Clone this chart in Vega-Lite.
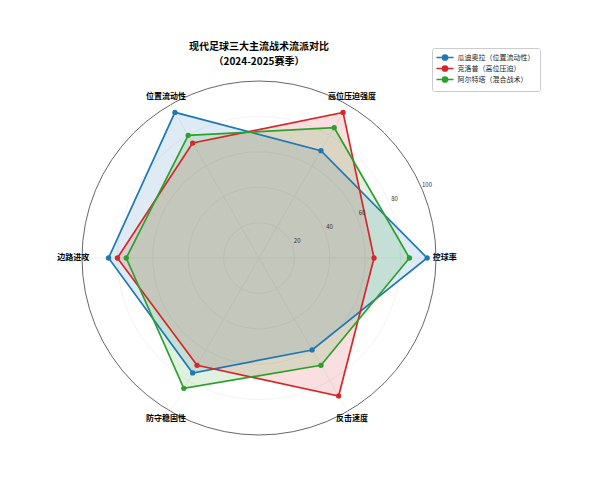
{
  "$schema": "https://vega.github.io/schema/vega-lite/v6.json",
  "width": 354,
  "height": 354,
  "autosize": {"type": "none"},
  "padding": {"left": 82, "top": 81, "right": 164, "bottom": 45},
  "background": "white",
  "config": {"view": {"stroke": null}, "font": "Noto Sans CJK SC"},
  "datasets": {
    "scores": [
      {"team": "瓜迪奥拉（位置流动性）", "axis": "控球率", "value": 95},
      {"team": "瓜迪奥拉（位置流动性）", "axis": "高位压迫强度", "value": 70},
      {"team": "瓜迪奥拉（位置流动性）", "axis": "位置流动性", "value": 95},
      {"team": "瓜迪奥拉（位置流动性）", "axis": "边路进攻", "value": 85},
      {"team": "瓜迪奥拉（位置流动性）", "axis": "防守稳固性", "value": 75},
      {"team": "瓜迪奥拉（位置流动性）", "axis": "反击速度", "value": 60},
      {"team": "克洛普（高位压迫）", "axis": "控球率", "value": 65},
      {"team": "克洛普（高位压迫）", "axis": "高位压迫强度", "value": 95},
      {"team": "克洛普（高位压迫）", "axis": "位置流动性", "value": 75},
      {"team": "克洛普（高位压迫）", "axis": "边路进攻", "value": 80},
      {"team": "克洛普（高位压迫）", "axis": "防守稳固性", "value": 70},
      {"team": "克洛普（高位压迫）", "axis": "反击速度", "value": 90},
      {"team": "阿尔特塔（混合战术）", "axis": "控球率", "value": 85},
      {"team": "阿尔特塔（混合战术）", "axis": "高位压迫强度", "value": 85},
      {"team": "阿尔特塔（混合战术）", "axis": "位置流动性", "value": 80},
      {"team": "阿尔特塔（混合战术）", "axis": "边路进攻", "value": 75},
      {"team": "阿尔特塔（混合战术）", "axis": "防守稳固性", "value": 85},
      {"team": "阿尔特塔（混合战术）", "axis": "反击速度", "value": 70}
    ],
    "axes": [
      {"axis": "控球率"},
      {"axis": "高位压迫强度"},
      {"axis": "位置流动性"},
      {"axis": "边路进攻"},
      {"axis": "防守稳固性"},
      {"axis": "反击速度"}
    ],
    "rings": [{"r": 20}, {"r": 40}, {"r": 60}, {"r": 80}],
    "outer": [{"r": 100}],
    "ticks": [{"t": 20}, {"t": 40}, {"t": 60}, {"t": 80}, {"t": 100}],
    "titles": [{"line": "现代足球三大主流战术流派对比", "row": 1}, {"line": "（2024-2025赛季）", "row": 2}]
  },
  "layer": [
    {
      "data": {"name": "rings"},
      "mark": {"type": "point", "shape": "circle", "filled": false, "strokeWidth": 0.8, "opacity": 1, "color": "#efefef"},
      "encoding": {
        "x": {"datum": 0, "type": "quantitative", "scale": {"domain": [-100, 100], "nice": false, "zero": false}, "axis": null},
        "y": {"datum": 0, "type": "quantitative", "scale": {"domain": [-100, 100], "nice": false, "zero": false}, "axis": null},
        "size": {"field": "r", "type": "quantitative", "scale": {"type": "pow", "exponent": 2, "domain": [0, 100], "range": [0, 125316]}, "legend": null}
      }
    },
    {
      "data": {"name": "outer"},
      "mark": {"type": "point", "shape": "circle", "filled": false, "strokeWidth": 0.9, "opacity": 1, "color": "#555555"},
      "encoding": {
        "x": {"datum": 0, "type": "quantitative"},
        "y": {"datum": 0, "type": "quantitative"},
        "size": {"field": "r", "type": "quantitative", "legend": null}
      }
    },
    {
      "data": {"name": "axes"},
      "transform": [
        {"calculate": "indexof(['控球率','高位压迫强度','位置流动性','边路进攻','防守稳固性','反击速度'], datum.axis) * PI / 3", "as": "ang"},
        {"calculate": "0", "as": "o"},
        {"calculate": "100 * cos(datum.ang)", "as": "ex"},
        {"calculate": "100 * sin(datum.ang)", "as": "ey"}
      ],
      "mark": {"type": "rule", "color": "#efefef", "strokeWidth": 0.8},
      "encoding": {
        "x": {"field": "o", "type": "quantitative"},
        "y": {"field": "o", "type": "quantitative"},
        "x2": {"field": "ex"},
        "y2": {"field": "ey"}
      }
    },
    {
      "data": {"name": "scores"},
      "transform": [
        {"calculate": "indexof(['控球率','高位压迫强度','位置流动性','边路进攻','防守稳固性','反击速度'], datum.axis)", "as": "idx"},
        {"calculate": "datum.idx * PI / 3", "as": "ang"},
        {"calculate": "datum.value * cos(datum.ang)", "as": "px"},
        {"calculate": "datum.value * sin(datum.ang)", "as": "py"}
      ],
      "layer": [
        {
          "mark": {"type": "line", "interpolate": "linear-closed", "fillOpacity": 0.15, "strokeOpacity": 0},
          "encoding": {
            "x": {"field": "px", "type": "quantitative"},
            "y": {"field": "py", "type": "quantitative"},
            "order": {"field": "idx", "type": "quantitative"},
            "fill": {"field": "team", "type": "nominal", "scale": {"domain": ["瓜迪奥拉（位置流动性）", "克洛普（高位压迫）", "阿尔特塔（混合战术）"], "range": ["#1f77b4", "#d62728", "#2ca02c"]}}
          }
        },
        {
          "mark": {"type": "line", "interpolate": "linear-closed", "strokeWidth": 1.7},
          "encoding": {
            "x": {"field": "px", "type": "quantitative"},
            "y": {"field": "py", "type": "quantitative"},
            "order": {"field": "idx", "type": "quantitative"},
            "color": {
              "field": "team", "type": "nominal",
              "scale": {"domain": ["瓜迪奥拉（位置流动性）", "克洛普（高位压迫）", "阿尔特塔（混合战术）"], "range": ["#1f77b4", "#d62728", "#2ca02c"]},
              "legend": {
                "orient": "none", "legendX": 350, "legendY": -33, "title": null,
                "labelFontSize": 7, "labelFont": "Noto Sans CJK SC", "labelColor": "#222222",
                "symbolType": "M-2.43,0L2.43,0M0.74,0A0.74,0.74,0,1,1,-0.74,0A0.74,0.74,0,1,1,0.74,0Z",
                "symbolSize": 49, "symbolStrokeWidth": 1.5,
                "strokeColor": "#cccccc", "fillColor": "white", "padding": 5, "cornerRadius": 2,
                "rowPadding": -2, "labelOffset": 8, "symbolOffset": 3.5,
                "encode": {"symbols": {"update": {"fillOpacity": {"value": 1}, "strokeOpacity": {"value": 1}, "opacity": {"value": 1}}}}
              }
            }
          }
        },
        {
          "mark": {"type": "point", "filled": true, "size": 28, "opacity": 1},
          "encoding": {
            "x": {"field": "px", "type": "quantitative"},
            "y": {"field": "py", "type": "quantitative"},
            "color": {"field": "team", "type": "nominal"}
          }
        }
      ]
    },
    {
      "data": {"name": "axes"},
      "transform": [
        {"calculate": "indexof(['控球率','高位压迫强度','位置流动性','边路进攻','防守稳固性','反击速度'], datum.axis) * PI / 3", "as": "ang"},
        {"calculate": "105 * cos(datum.ang)", "as": "lx"},
        {"calculate": "105 * sin(datum.ang)", "as": "ly"}
      ],
      "mark": {"type": "text", "fontSize": 8, "fontWeight": "bold", "color": "#000000", "align": "center", "baseline": "middle"},
      "encoding": {
        "x": {"field": "lx", "type": "quantitative"},
        "y": {"field": "ly", "type": "quantitative"},
        "text": {"field": "axis"}
      }
    },
    {
      "data": {"name": "ticks"},
      "transform": [
        {"calculate": "(datum.t + 3.5) * cos(0.41)", "as": "tx"},
        {"calculate": "(datum.t + 3.5) * sin(0.41)", "as": "ty"}
      ],
      "mark": {"type": "text", "fontSize": 6, "color": "#333333", "align": "center", "baseline": "middle"},
      "encoding": {
        "x": {"field": "tx", "type": "quantitative"},
        "y": {"field": "ty", "type": "quantitative"},
        "text": {"field": "t", "type": "quantitative"}
      }
    },
    {
      "data": {"name": "titles"},
      "transform": [
        {"calculate": "0", "as": "tx"},
        {"calculate": "datum.row == 1 ? 119.2 : 110.8", "as": "ty"}
      ],
      "mark": {"type": "text", "fontSize": 10, "fontWeight": "bold", "color": "#000000", "align": "center", "baseline": "middle", "font": "Noto Sans CJK SC"},
      "encoding": {
        "x": {"field": "tx", "type": "quantitative"},
        "y": {"field": "ty", "type": "quantitative"},
        "text": {"field": "line"}
      }
    }
  ]
}
